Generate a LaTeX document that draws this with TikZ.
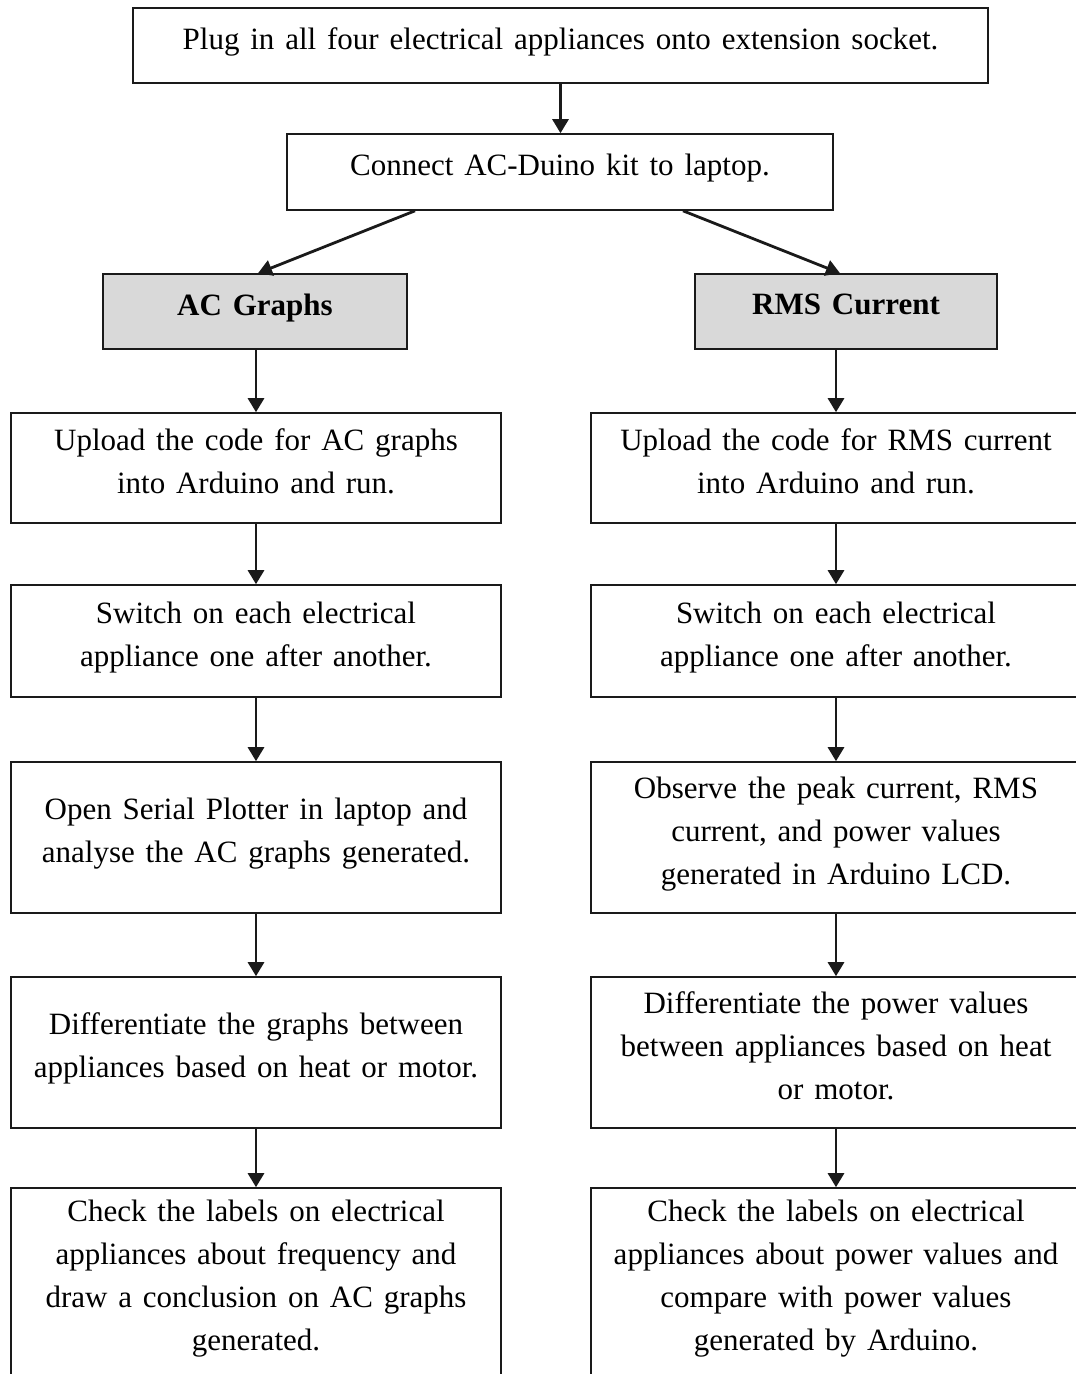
\documentclass[tikz,border=0pt]{standalone}
\usepackage{fontspec}
\setmainfont{Liberation Serif}[WordSpace=1.4]
\usetikzlibrary{arrows.meta,calc}
\definecolor{ink}{HTML}{1A1A1A}
\definecolor{shade}{HTML}{D9D9D9}
\tikzset{box/.style={draw=ink,line width=1.6pt,align=center,inner sep=0pt,
    text depth=14pt,font=\fontsize{31}{43}\selectfont},
  head/.style={box,fill=shade,font=\fontsize{31}{43}\selectfont\bfseries,
    minimum height=75pt},
  col/.style={box,minimum width=490pt},
  arr/.style={draw=ink,line width=2.8pt,-{Triangle[width=16pt,length=14pt]}}}
\begin{document}
\begin{tikzpicture}[x=1pt,y=-1pt]
\useasboundingbox (0,0) rectangle (1076,1374);
\clip (0,0) rectangle (1076,1374);
\node[box,minimum width=855pt,minimum height=75pt] (plug) at (560.5,45.5)
  {Plug in all four electrical appliances onto extension socket.};
\node[box,minimum width=546pt,minimum height=76pt] (connect) at (560,172)
  {Connect AC-Duino kit to laptop.};
\node[head,minimum width=304pt] (acg) at (255,311.5) {AC Graphs};
\node[head,minimum width=302pt] (rms) at (846,311.5) {RMS Current};
\node[col,minimum height=110pt] (a1) at (256,468)
  {Upload the code for AC graphs\\into Arduino and run.};
\node[col,minimum height=112pt] (a2) at (256,641)
  {Switch on each electrical\\appliance one after another.};
\node[col,minimum height=151pt] (a3) at (256,837.5)
  {Open Serial Plotter in laptop and\\analyse the AC graphs generated.};
\node[col,minimum height=151pt] (a4) at (256,1052.5)
  {Differentiate the graphs between\\appliances based on heat or motor.};
\node[col,minimum height=188pt] (a5) at (256,1282)
  {Check the labels on electrical\\appliances about frequency and\\draw a conclusion on AC graphs\\generated.};
\node[col,minimum height=110pt] (r1) at (836,468)
  {Upload the code for RMS current\\into Arduino and run.};
\node[col,minimum height=112pt] (r2) at (836,641)
  {Switch on each electrical\\appliance one after another.};
\node[col,minimum height=151pt] (r3) at (836,837.5)
  {Observe the peak current, RMS\\current, and power values\\generated in Arduino LCD.};
\node[col,minimum height=151pt] (r4) at (836,1052.5)
  {Differentiate the power values\\between appliances based on heat\\or motor.};
\node[col,minimum height=188pt] (r5) at (836,1282)
  {Check the labels on electrical\\appliances about power values and\\compare with power values\\generated by Arduino.};
\draw[arr] (plug.south) -- (plug.south |- connect.north);
\draw[arr] ($(connect.south)+(-145,0)$) -- ($(acg.north)+(3,0)$);
\draw[arr] ($(connect.south)+(123,0)$) -- ($(rms.north)+(-6,0)$);
\draw[arr] (a1.north |- acg.south) -- (a1.north);
\draw[arr] (r1.north |- rms.south) -- (r1.north);
\foreach \u/\v in {a1/a2,a2/a3,a3/a4,a4/a5,r1/r2,r2/r3,r3/r4,r4/r5}
  \draw[arr] (\u.south) -- (\v.north);
\end{tikzpicture}
\end{document}
